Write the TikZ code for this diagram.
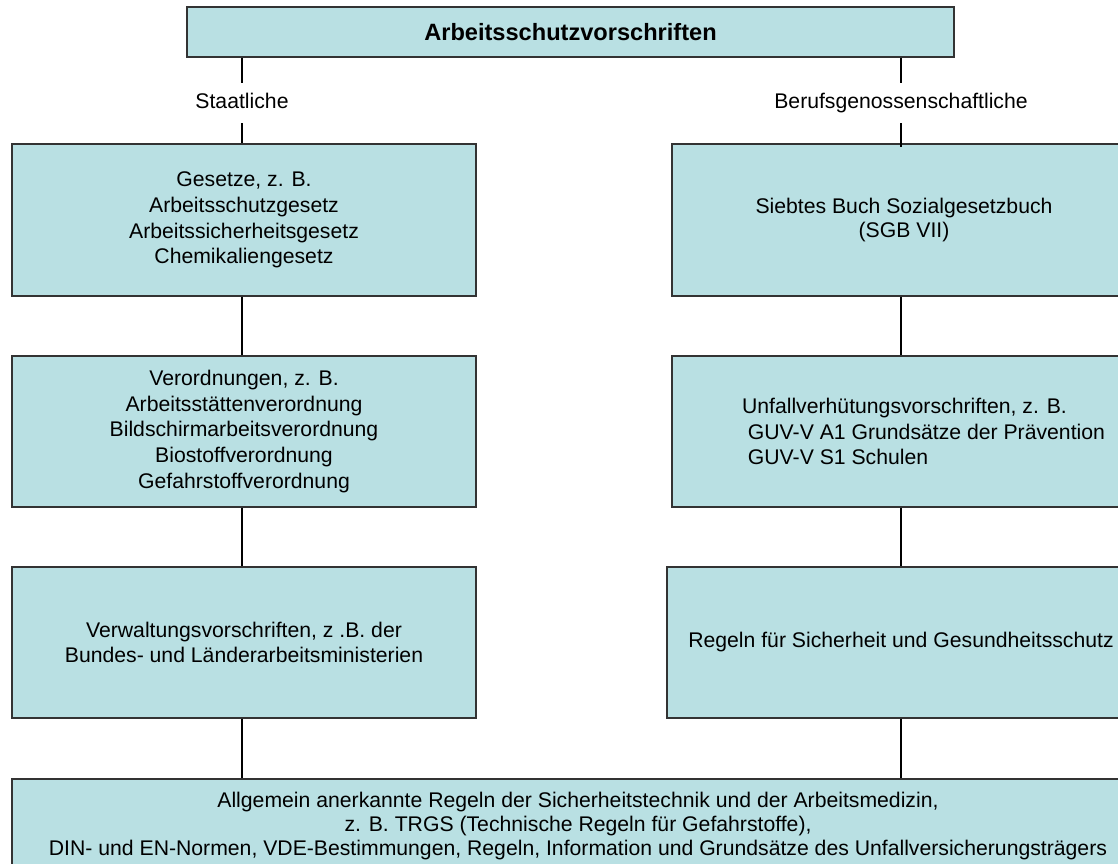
\documentclass[tikz,border=0pt]{standalone}
\usepackage{fontspec}
\setmainfont{Liberation Sans}
\definecolor{boxfill}{RGB}{185,224,227}
\begin{document}
\begin{tikzpicture}[x=1pt, y=-1pt,
  box/.style={draw=black!80, line width=1.3pt, fill=boxfill, align=center, inner sep=0pt,
    font=\fontsize{21.2}{25.7}\selectfont},
  conn/.style={line width=2.4pt, black},
  lab/.style={inner sep=0pt, minimum height=40pt, text height=15pt, text depth=4pt,
    font=\fontsize{21.2}{25.7}\selectfont}]
\useasboundingbox (0,0) rectangle (1118,863);

\node[box, minimum width=767pt, minimum height=50pt, font=\bfseries\fontsize{23.6}{28}\selectfont] (top) at (570.5,32) {Arbeitsschutzvorschriften};

\node[lab] (st) at (242,103) {Staatliche};
\node[lab] (bg) at (901,103) {Berufsgenossenschaftliche};

\node[box, minimum width=464pt, minimum height=152pt] (ges) at (244,220) {Gesetze, z. B.\\ Arbeitsschutzgesetz\\ Arbeitssicherheitsgesetz\\ Chemikaliengesetz};
\node[box, minimum width=464pt, minimum height=151pt] (vo) at (244,431.5) {Verordnungen, z. B.\\ Arbeitsstättenverordnung\\ Bildschirmarbeitsverordnung\\ Biostoffverordnung\\ Gefahrstoffverordnung};
\node[box, minimum width=464pt, minimum height=151pt] (vw) at (244,642.5) {Verwaltungsvorschriften, z .B. der\\ Bundes- und Länderarbeitsministerien};

\node[box, minimum width=464pt, minimum height=152pt, font=\fontsize{21.2}{23.5}\selectfont] (sgb) at (904,220) {Siebtes Buch Sozialgesetzbuch\\ (SGB VII)};
\node[box, align=left, minimum width=503pt, minimum height=151pt] (uvv) at (923.5,431.5) {Unfallverhütungsvorschriften, z. B.\\ \mbox{}\ GUV-V A1 Grundsätze der Prävention\\ \mbox{}\ GUV-V S1 Schulen};
\node[box, minimum width=468pt, minimum height=151pt] (rsg) at (901,642.5) {Regeln für Sicherheit und Gesundheitsschutz};

\node[box, minimum width=1132pt, minimum height=94pt, font=\fontsize{21.2}{24}\selectfont] (aar) at (578,826) {Allgemein anerkannte Regeln der Sicherheitstechnik und der Arbeitsmedizin,\\ z. B. TRGS (Technische Regeln für Gefahrstoffe),\\ DIN- und EN-Normen, VDE-Bestimmungen, Regeln, Information und Grundsätze des Unfallversicherungsträgers};

\draw[conn] (top.south -| st) -- (st.north);
\draw[conn] (st.south) -- (st.south |- ges.north);
\draw[conn] (top.south -| bg) -- (bg.north);
\draw[conn] (bg.south) -- ([yshift=-4pt]bg.south |- sgb.north);

\foreach \a/\b in {ges/vo, vo/vw, vw/aar}
  \draw[conn] (\a.south -| st) -- (\b.north -| st);
\foreach \a/\b in {sgb/uvv, uvv/rsg, rsg/aar}
  \draw[conn] (\a.south -| bg) -- (\b.north -| bg);

\end{tikzpicture}
\end{document}
